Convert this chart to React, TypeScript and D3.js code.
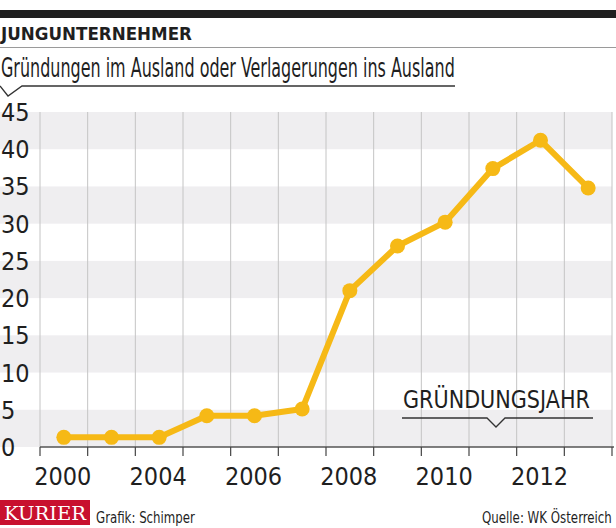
import React, { useLayoutEffect, useRef, useState } from "react";
import * as d3 from "d3";

const categories = ["2000", "2001", "2002", "2003", "2004", "2005", "2006", "2007", "2008", "2009", "2010", "2011"];
const tickLabels = ["2000", "", "2004", "", "2006", "", "2008", "", "2010", "", "2012", ""];
const values = [1.3, 1.3, 1.3, 4.2, 4.2, 5.1, 21.0, 27.0, 30.2, 37.4, 41.2, 34.8];
const yTicks = [0, 5, 10, 15, 20, 25, 30, 35, 40, 45];

const W = 616;
const H = 528;
const FONT = "'DejaVu Sans Condensed', 'Liberation Sans Narrow', 'Roboto', sans-serif";

type FitProps = {
  x: number;
  y: number;
  width: number;
  anchor?: "start" | "end" | "middle";
  children: string;
  [k: string]: any;
};

function FitText({ x, y, width, anchor = "start", children, ...rest }: FitProps) {
  const ref = useRef<SVGTextElement>(null);
  const [sx, setSx] = useState(1);
  useLayoutEffect(() => {
    if (ref.current) {
      const len = ref.current.getComputedTextLength();
      if (len > 0) setSx(width / len);
    }
  }, [width, children]);
  const left = anchor === "start" ? x : anchor === "end" ? x - width : x - width / 2;
  return (
    <g transform={`translate(${left},${y}) scale(${sx},1)`}>
      <text ref={ref} x={0} y={0} {...rest}>
        {children}
      </text>
    </g>
  );
}

export default function App() {
  const x = d3.scaleBand<string>().domain(categories).range([40, 612]).padding(0);
  const y = d3.scaleLinear().domain([0, 45]).range([447, 112]);
  const cx = (c: string) => (x(c) as number) + x.bandwidth() / 2;
  const line = d3
    .line<number>()
    .x((_, i) => cx(categories[i]))
    .y((d) => y(d));

  const bands = [0, 10, 20, 30, 40];
  const gridXs = categories.map((c) => x(c) as number).concat([612]);

  return (
    <svg
      width={W}
      height={H}
      style={{ position: "absolute", left: 0, top: 0, background: "#fff" }}
      fontFamily={FONT}
    >
      <rect x={0} y={0} width={W} height={H} fill="#fff" />
      {/* header */}
      <rect x={0} y={10} width={W} height={8} fill="#1f1f1f" />
      <FitText x={1} y={40} width={191} fontSize={17} fontWeight="bold" fill="#1f1f1f">
        JUNGUNTERNEHMER
      </FitText>
      <line x1={0} x2={W} y1={47.5} y2={47.5} stroke="#9a9a9a" strokeWidth={1.2} />
      <FitText x={1} y={77} width={454} fontSize={26} fill="#1f1f1f">
        Gründungen im Ausland oder Verlagerungen ins Ausland
      </FitText>
      <path d="M0,86 L8,96 L22,86 L455,86" fill="none" stroke="#333" strokeWidth={1.3} />

      {/* bands */}
      {bands.map((b) => (
        <rect key={b} x={0} width={612} y={y(b + 5)} height={y(b) - y(b + 5)} fill="#efeef0" />
      ))}
      {/* vertical grid */}
      {gridXs.map((gx, i) => (
        <line key={i} x1={gx} x2={gx} y1={y(45)} y2={y(0)} stroke="#c4c4c4" strokeWidth={1} />
      ))}
      {/* y labels */}
      {yTicks.map((t) => (
        <text key={t} x={1} y={y(t)} dy="0.36em" fontSize={25} fill="#1f1f1f">
          {t}
        </text>
      ))}

      {/* legend label */}
      <FitText x={403} y={408} width={187} fontSize={25} fill="#1f1f1f">
        GRÜNDUNGSJAHR
      </FitText>
      <path d="M402,418 L487,418 L496,427 L505,418 L593,418" fill="none" stroke="#333" strokeWidth={1.3} />

      {/* x axis */}
      <line x1={40} x2={614} y1={y(0)} y2={y(0)} stroke="#555" strokeWidth={1.5} />
      {gridXs.map((gx, i) => (
        <line key={"t" + i} x1={gx} x2={gx} y1={y(0)} y2={y(0) + 9} stroke="#444" strokeWidth={1.2} />
      ))}
      {categories.map((c, i) =>
        tickLabels[i] ? (
          <text key={c} x={cx(c) - 1} y={485} fontSize={25} textAnchor="middle" fill="#1f1f1f">
            {tickLabels[i]}
          </text>
        ) : null
      )}

      {/* data line */}
      <path d={line(values) || ""} fill="none" stroke="#f6b916" strokeWidth={6} strokeLinejoin="round" />
      {values.map((v, i) => (
        <circle key={i} cx={cx(categories[i])} cy={y(v)} r={7.5} fill="#f6b916" />
      ))}

      {/* footer */}
      <rect x={0} y={500} width={90} height={25} fill="#c8102e" />
      <FitText x={4} y={520} width={82} fontSize={19} fontFamily="'DejaVu Serif', 'Liberation Serif', serif" fill="#fff">
        KURIER
      </FitText>
      <FitText x={96} y={523} width={99} fontSize={16} fill="#1f1f1f">
        Grafik: Schimper
      </FitText>
      <FitText x={612} y={523} width={130} anchor="end" fontSize={16} fill="#1f1f1f">
        Quelle: WK Österreich
      </FitText>
    </svg>
  );
}
